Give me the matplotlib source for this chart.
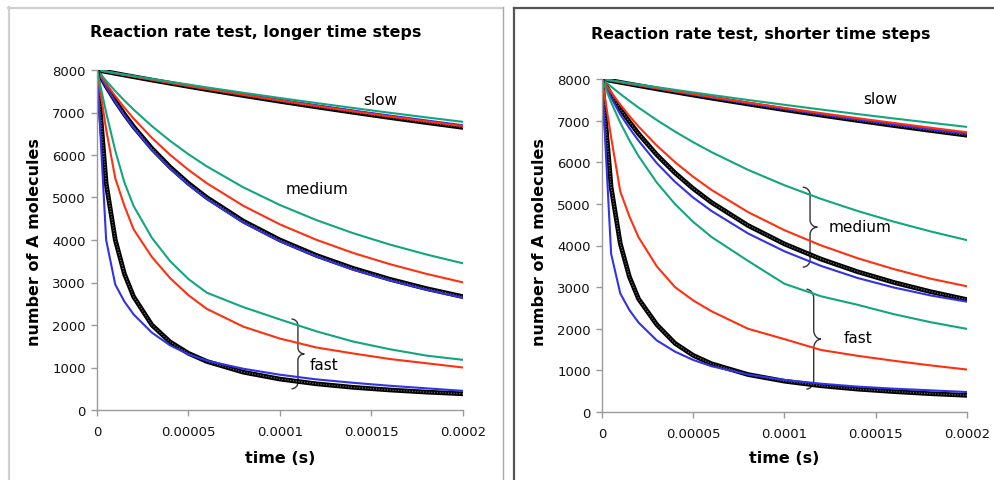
import numpy as np
import matplotlib
matplotlib.use("Agg")
import matplotlib.pyplot as plt
from matplotlib.path import Path
from matplotlib.patches import PathPatch
from matplotlib.lines import Line2D

# ── data (time in units of 1e-5 s, values = number of A molecules) ─────────
t_steps = [0, 0.5, 1, 1.5, 2, 3, 4, 5, 6, 8, 10, 12, 14, 16, 18, 20]

# left panel: longer time steps
long_slow_black = [8000, 7960, 7920, 7880, 7841, 7763, 7688, 7613, 7540, 7399, 7262, 7131, 7004, 6881, 6763, 6649]
long_slow_blue = [8000, 7962, 7924, 7886, 7849, 7775, 7702, 7631, 7561, 7425, 7294, 7168, 7046, 6928, 6813, 6700]
long_slow_red = [8000, 7961, 7922, 7884, 7846, 7771, 7697, 7624, 7553, 7415, 7281, 7152, 7027, 6906, 6791, 6680]
long_slow_green = [8000, 7964, 7929, 7894, 7859, 7790, 7723, 7657, 7591, 7464, 7341, 7222, 7106, 6994, 6885, 6780]

long_med_black = [8000, 7619, 7273, 6957, 6667, 6154, 5714, 5333, 5000, 4444, 4000, 3636, 3333, 3077, 2857, 2667]
long_med_blue = [8000, 7600, 7250, 6930, 6640, 6120, 5680, 5300, 4970, 4410, 3970, 3610, 3300, 3050, 2830, 2640]
long_med_red = [8000, 7680, 7386, 7112, 6859, 6402, 6002, 5650, 5336, 4803, 4367, 4003, 3695, 3432, 3203, 3003]
long_med_green = [8000, 7745, 7505, 7280, 7068, 6679, 6331, 6017, 5733, 5238, 4822, 4467, 4160, 3893, 3659, 3451]

long_fast_black = [8000, 5333, 4000, 3200, 2667, 2000, 1600, 1333, 1143, 889, 727, 615, 533, 471, 421, 381]
long_fast_blue = [8000, 4000, 2950, 2550, 2250, 1820, 1520, 1310, 1160, 970, 830, 720, 640, 570, 510, 450]
long_fast_red = [8000, 6600, 5450, 4800, 4250, 3600, 3100, 2700, 2380, 1960, 1680, 1470, 1330, 1200, 1100, 1000]
long_fast_green = [8000, 7000, 6100, 5350, 4800, 4050, 3500, 3080, 2760, 2420, 2130, 1850, 1610, 1430, 1280, 1180]

# right panel: shorter time steps
short_slow_black = [8000, 7960, 7920, 7880, 7841, 7763, 7688, 7613, 7540, 7399, 7262, 7131, 7004, 6881, 6763, 6649]
short_slow_blue = [8000, 7961, 7922, 7884, 7846, 7771, 7697, 7624, 7553, 7415, 7281, 7152, 7027, 6906, 6791, 6680]
short_slow_red = [8000, 7962, 7925, 7887, 7851, 7778, 7707, 7636, 7568, 7434, 7305, 7180, 7059, 6943, 6830, 6720]
short_slow_green = [8000, 7967, 7934, 7900, 7868, 7803, 7740, 7678, 7616, 7496, 7380, 7267, 7158, 7052, 6949, 6849]

short_med_black = [8000, 7626, 7285, 6973, 6687, 6180, 5744, 5366, 5035, 4481, 4037, 3673, 3370, 3112, 2891, 2700]
short_med_blue = [8000, 7550, 7150, 6820, 6520, 5980, 5530, 5150, 4830, 4290, 3860, 3510, 3220, 2990, 2800, 2650]
short_med_red = [8000, 7680, 7386, 7112, 6859, 6402, 6002, 5650, 5336, 4803, 4367, 4003, 3695, 3432, 3203, 3020]
short_med_green = [8000, 7817, 7642, 7474, 7314, 7014, 6737, 6481, 6244, 5818, 5447, 5120, 4830, 4571, 4339, 4129]

short_fast_black = [8000, 5400, 4050, 3250, 2720, 2100, 1650, 1360, 1160, 900, 740, 630, 550, 490, 440, 400]
short_fast_blue = [8000, 3800, 2850, 2450, 2150, 1720, 1450, 1250, 1100, 900, 770, 680, 610, 560, 520, 480]
short_fast_red = [8000, 6600, 5300, 4700, 4200, 3500, 3000, 2680, 2420, 2000, 1750, 1490, 1350, 1230, 1120, 1020]
short_fast_green = [8000, 7440, 6954, 6527, 6150, 5513, 4995, 4566, 4205, 3631, 3080, 2780, 2576, 2349, 2158, 1996]

x_ticks = [0, 0.00005, 0.0001, 0.00015, 0.0002]
x_tick_labels = ["0", "0.00005", "0.0001", "0.00015", "0.0002"]
y_ticks = [0, 1000, 2000, 3000, 4000, 5000, 6000, 7000, 8000]

titles = ["Reaction rate test, longer time steps", "Reaction rate test, shorter time steps"]

BLUE = "#3232e6"
RED = "#ff3010"
GREEN = "#12a67e"
GRAY = "#9a9a9a"

W, H = 995, 481
fig = plt.figure(figsize=(W / 100, H / 100), dpi=100)


def fx(px):
    return px / W


def fy(py):
    return 1 - py / H


def draw_brace(ax, x, y0, y1, w, lw=1.0):
    """Right-pointing curly brace '}' between y0 (bottom) and y1 (top)."""
    ym = (y0 + y1) / 2
    c = (y1 - y0) * 0.09
    k = 0.55
    verts = [
        (x - w, y1),
        (x - w + k * w, y1), (x, y1 - c + k * c), (x, y1 - c),
        (x, ym + c),
        (x, ym + c - k * c), (x + w - k * w, ym), (x + w, ym),
        (x + w - k * w, ym), (x, ym - c + k * c), (x, ym - c),
        (x, y0 + c),
        (x, y0 + c - k * c), (x - w + k * w, y0), (x - w, y0),
    ]
    codes = [Path.MOVETO,
             Path.CURVE4, Path.CURVE4, Path.CURVE4,
             Path.LINETO,
             Path.CURVE4, Path.CURVE4, Path.CURVE4,
             Path.CURVE4, Path.CURVE4, Path.CURVE4,
             Path.LINETO,
             Path.CURVE4, Path.CURVE4, Path.CURVE4]
    ax.add_patch(PathPatch(Path(verts, codes), fill=False, lw=lw,
                           edgecolor="#333333"))


def draw_panel(ax, groups):
    t = np.array(t_steps) * 1e-5
    for black, blue, red, green in groups:
        ax.plot(t, black, color="black", lw=3.4)
        ax.plot(t, black, color="#6a6a6a", lw=1.0, dashes=(0.8, 1.2))
        ax.plot(t, blue, color=BLUE, lw=1.5)
        ax.plot(t, red, color=RED, lw=1.5)
        ax.plot(t, green, color=GREEN, lw=1.5)
    ax.set_xlim(0, 0.0002)
    ax.set_ylim(0, 8000)
    ax.set_xticks(x_ticks)
    ax.set_xticklabels(x_tick_labels)
    ax.set_yticks(y_ticks)
    for sp in ["top", "right"]:
        ax.spines[sp].set_visible(False)
    for sp in ["left", "bottom"]:
        ax.spines[sp].set_color(GRAY)
        ax.spines[sp].set_linewidth(1.0)
    ax.tick_params(colors=GRAY, labelcolor="#111111", labelsize=9.5,
                   length=4, width=1.0, direction="out")
    ax.tick_params(axis="x", pad=7)
    ax.tick_params(axis="y", pad=4)


# ── left panel ──────────────────────────────────────────────────────────────
ax1 = fig.add_axes([fx(97), fy(411), fx(463 - 97), (411 - 71) / H])
draw_panel(ax1, [
    (long_slow_black, long_slow_blue, long_slow_red, long_slow_green),
    (long_med_black, long_med_blue, long_med_red, long_med_green),
    (long_fast_black, long_fast_blue, long_fast_red, long_fast_green),
])
ax1.text(0.0001548, 7310, "slow", fontsize=11, ha="center", va="center")
ax1.text(0.0001205, 5200, "medium", fontsize=11, ha="center", va="center")
ax1.text(0.0001238, 1060, "fast", fontsize=11, ha="center", va="center")
draw_brace(ax1, 0.0001098, 500, 2140, 0.0000035)

# ── right panel ─────────────────────────────────────────────────────────────
ax2 = fig.add_axes([fx(602), fy(413), fx(967 - 602), (413 - 80) / H])
draw_panel(ax2, [
    (short_slow_black, short_slow_blue, short_slow_red, short_slow_green),
    (short_med_black, short_med_blue, short_med_red, short_med_green),
    (short_fast_black, short_fast_blue, short_fast_red, short_fast_green),
])
ax2.text(0.0001524, 7540, "slow", fontsize=11, ha="center", va="center")
ax2.text(0.0001415, 4450, "medium", fontsize=11, ha="center", va="center")
ax2.text(0.0001404, 1800, "fast", fontsize=11, ha="center", va="center")
draw_brace(ax2, 0.0001140, 3480, 5400, 0.000004)
draw_brace(ax2, 0.0001160, 550, 2950, 0.000004)

# ── titles and axis labels ──────────────────────────────────────────────────
for cx, cy, title in [(256, 33, titles[0]), (761, 34, titles[1])]:
    fig.text(fx(cx), fy(cy), title, fontsize=11.4, fontweight="bold",
             ha="center", va="center")
for cx in [35, 540]:
    fig.text(fx(cx), fy(242), "number of A molecules", fontsize=11.5,
             fontweight="bold", rotation=90, ha="center", va="center")
for cx in [280, 784]:
    fig.text(fx(cx), fy(459), "time (s)", fontsize=11.5, fontweight="bold",
             ha="center", va="center")

# ── panel frames ────────────────────────────────────────────────────────────
fig.add_artist(Line2D([fx(8), fx(503)], [fy(8.5), fy(8.5)], color="#cfcfcf", lw=1.6))
fig.add_artist(Line2D([fx(8.5), fx(8.5)], [fy(8), fy(481)], color="#cfcfcf", lw=1.6))
fig.add_artist(Line2D([fx(503), fx(503)], [fy(8), fy(481)], color="#a8a8a8", lw=1.0))
fig.add_artist(Line2D([fx(514), fx(995)], [fy(9), fy(9)], color="#555555", lw=1.6))
fig.add_artist(Line2D([fx(514), fx(514)], [fy(8.5), fy(481)], color="#555555", lw=1.6))

fig.savefig("out.png", dpi=100)
